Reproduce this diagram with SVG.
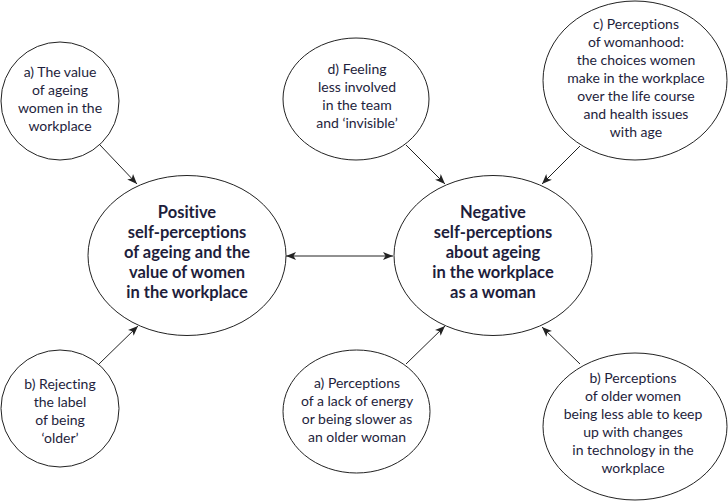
<svg xmlns="http://www.w3.org/2000/svg" width="728" height="502" viewBox="0 0 728 502">
<style>
.node ellipse{fill:#fff;stroke:#222;stroke-width:1}
.t{font-family:Lato,"Open Sans","DejaVu Sans",sans-serif;font-size:14px;fill:#1e1e3c;text-anchor:middle;font-variant-ligatures:none}
.b{font-family:Lato,"Open Sans","DejaVu Sans",sans-serif;font-size:16.5px;font-weight:bold;fill:#1e1e3c;text-anchor:middle;font-variant-ligatures:none}
.conn line{stroke:#222;stroke-width:1;fill:none}
</style>
<defs>
<marker id="ah" viewBox="0 0 10 10" refX="10" refY="5" markerWidth="10" markerHeight="10" markerUnits="userSpaceOnUse" orient="auto-start-reverse">
<path d="M0,1 L10,5 L0,9 L2.5,5 Z" fill="#222"/>
</marker>
</defs>
<rect width="728" height="502" fill="#fff"/>
<g id="connectors" class="conn">
<line x1="100" y1="145" x2="137" y2="184" marker-end="url(#ah)"/>
<line x1="99" y1="364" x2="138" y2="326" marker-end="url(#ah)"/>
<line x1="406" y1="145" x2="445" y2="184" marker-end="url(#ah)"/>
<line x1="580" y1="146" x2="542" y2="184" marker-end="url(#ah)"/>
<line x1="406" y1="364" x2="445" y2="326" marker-end="url(#ah)"/>
<line x1="580" y1="364" x2="542" y2="327" marker-end="url(#ah)"/>
<line x1="286" y1="256" x2="393" y2="256" marker-start="url(#ah)" marker-end="url(#ah)"/>
</g>
<g id="node-positive" class="node">
<ellipse cx="187" cy="255.5" rx="99" ry="80"/>
<text class="b" x="187" y="218">Positive</text>
<text class="b" x="187" y="238">self-perceptions</text>
<text class="b" x="187" y="258">of ageing and the</text>
<text class="b" x="187" y="278">value of women</text>
<text class="b" x="187" y="298">in the workplace</text>
</g>
<g id="node-negative" class="node">
<ellipse cx="493" cy="255.5" rx="99" ry="80"/>
<text class="b" x="493" y="218">Negative</text>
<text class="b" x="493" y="238">self-perceptions</text>
<text class="b" x="493" y="258">about ageing</text>
<text class="b" x="493" y="278">in the workplace</text>
<text class="b" x="493" y="298">as a woman</text>
</g>
<g id="node-pos-a" class="node">
<ellipse cx="60" cy="101" rx="59" ry="59"/>
<text class="t" x="60" y="77">a) The value</text>
<text class="t" x="60" y="95">of ageing</text>
<text class="t" x="60" y="113">women in the</text>
<text class="t" x="60" y="131">workplace</text>
</g>
<g id="node-pos-b" class="node">
<ellipse cx="60" cy="408.5" rx="59" ry="58.5"/>
<text class="t" x="60" y="389">b) Rejecting</text>
<text class="t" x="60" y="407">the label</text>
<text class="t" x="60" y="425">of being</text>
<text class="t" x="60" y="443">‘older’</text>
</g>
<g id="node-neg-d" class="node">
<ellipse cx="356" cy="99" rx="73" ry="61"/>
<text class="t" x="357" y="74">d) Feeling</text>
<text class="t" x="357" y="92">less involved</text>
<text class="t" x="357" y="110">in the team</text>
<text class="t" x="357" y="128">and ‘invisible’</text>
</g>
<g id="node-neg-c" class="node">
<ellipse cx="635" cy="80.5" rx="92" ry="79.5"/>
<text class="t" x="636" y="29">c) Perceptions</text>
<text class="t" x="636" y="47">of womanhood:</text>
<text class="t" x="636" y="65">the choices women</text>
<text class="t" x="636" y="83">make in the workplace</text>
<text class="t" x="636" y="101">over the life course</text>
<text class="t" x="636" y="119">and health issues</text>
<text class="t" x="636" y="137">with age</text>
</g>
<g id="node-neg-a" class="node">
<ellipse cx="356.5" cy="411.5" rx="73.5" ry="61.5"/>
<text class="t" x="357" y="388">a) Perceptions</text>
<text class="t" x="357" y="406">of a lack of energy</text>
<text class="t" x="357" y="424">or being slower as</text>
<text class="t" x="357" y="442">an older woman</text>
</g>
<g id="node-neg-b" class="node">
<ellipse cx="635" cy="426.5" rx="92" ry="73.5"/>
<text class="t" x="633" y="383">b) Perceptions</text>
<text class="t" x="633" y="401">of older women</text>
<text class="t" x="633" y="419">being less able to keep</text>
<text class="t" x="633" y="437">up with changes</text>
<text class="t" x="633" y="455">in technology in the</text>
<text class="t" x="633" y="473">workplace</text>
</g>
</svg>
